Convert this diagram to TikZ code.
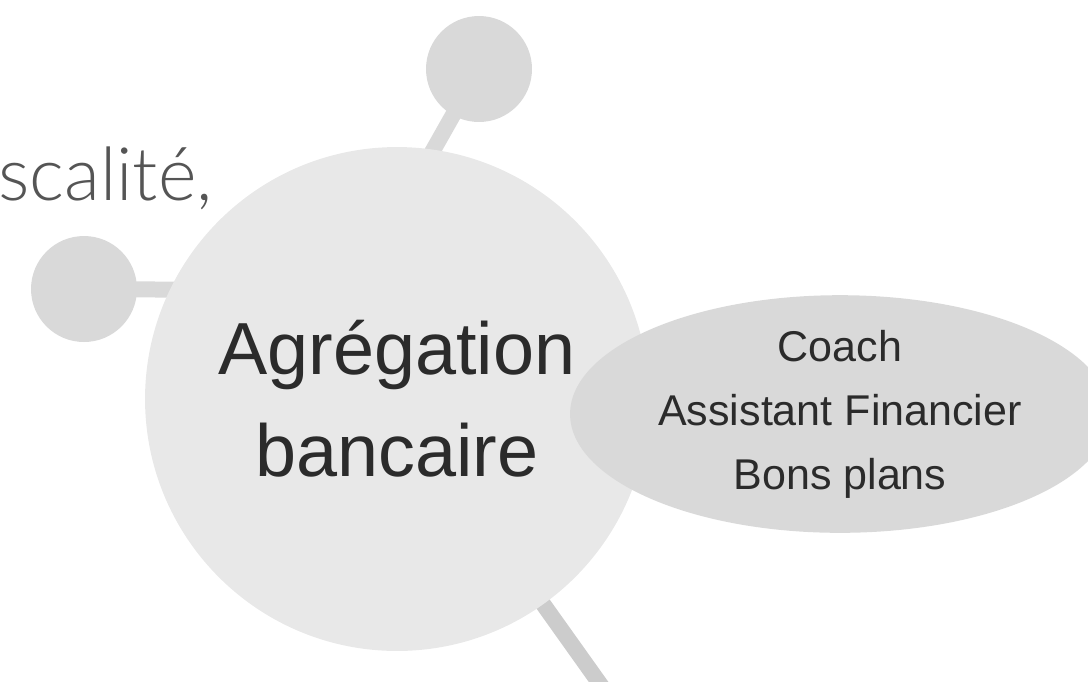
\documentclass[tikz,border=0pt]{standalone}
\usepackage{fontspec}
\setmainfont{Liberation Sans}
\newfontfamily\lightfont{Lato Light}
\usetikzlibrary{shapes.geometric,backgrounds}

\definecolor{hubgray}{HTML}{E8E8E8}
\definecolor{knobgray}{HTML}{D9D9D9}
\definecolor{spokegray}{HTML}{CCCCCC}
\definecolor{inkgray}{HTML}{2B2B2B}
\definecolor{softink}{HTML}{555555}

\begin{document}
\begin{tikzpicture}[x=0.02cm, y=-0.02cm,
hub/.style={circle, fill=hubgray, minimum size=10.08cm, inner sep=0pt, text=inkgray, align=center, font={\fontsize{42}{58}\selectfont}},
knob/.style={circle, fill=knobgray, minimum size=2.12cm, inner sep=0pt},
spoke/.style={line width=0.32cm, draw=knobgray},
bubble/.style={ellipse, fill=knobgray, minimum width=10.8cm, minimum height=4.68cm, inner sep=0pt, text=inkgray, align=center, font={\fontsize{24.5}{36.4}\selectfont}}
]
\useasboundingbox (0,0) rectangle (1088,681);

\node[hub] (hub) at (397,399) {Agrégation\\bancaire};
\node[knob] (topknob) at (479,69) {};
\node[knob] (leftknob) at (84,289) {};
\node[bubble] (services) at (840,414) {Coach\\Assistant Financier\\Bons plans};
\node[anchor=base east, text=softink, inner sep=0pt, font={\lightfont\fontsize{42}{50}\selectfont}] (fisc) at (213,200) {scalité,};

\coordinate (topend) at (405,200);
\coordinate (leftend) at (230,290);
\coordinate (bottomend) at (620,712);

\begin{scope}[on background layer]
\draw[spoke] (topknob.center) -- (topend);
\draw[spoke] (leftknob.center) -- (leftend);
\draw[spoke, draw=spokegray] (hub.center) -- (bottomend);
\end{scope}
\end{tikzpicture}
\end{document}
